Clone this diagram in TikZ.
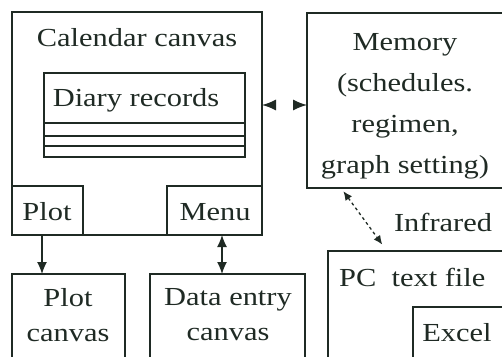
\documentclass[tikz,border=0pt]{standalone}
\usepackage{fontspec}
\setmainfont[FakeStretch=1.17]{Liberation Serif}
\usetikzlibrary{arrows.meta,fit}
\definecolor{ink}{HTML}{1F2A24}
\begin{document}
\begin{tikzpicture}[x=1pt,y=-1pt,
  frame/.style={draw=ink, line width=1.6pt, inner sep=0pt, outer sep=0pt},
  lbl/.style={font=\fontsize{26}{30}\selectfont, text=ink, inner sep=0pt},
  bigtip/.tip={Latex[length=12pt,width=10pt]},
  sidetip/.tip={Latex[length=14pt,width=11pt]},
  smalltip/.tip={Latex[length=9pt,width=8pt]},
  conn/.style={draw=ink, line width=1.3pt}]
\useasboundingbox (0,0) rectangle (502,356);
\clip (0,0) rectangle (502,356);
% calendar canvas
\node[frame, fit={(12,12) (262,235)}] (cal) {};
\node[lbl] (caltxt) at (137,38) {Calendar canvas};
\node[frame, fit={(44,73) (245,157)}] (diary) {};
\node[lbl] (diarytxt) at (136,100) {Diary records};
\draw[draw=ink, line width=2.4pt] (diary.west |- 0,123) -- (diary.east |- 0,123);
\draw[draw=ink, line width=1.2pt] (diary.west |- 0,136) -- (diary.east |- 0,136);
\draw[draw=ink, line width=1.2pt] (diary.west |- 0,146) -- (diary.east |- 0,146);
\node[frame, fit={(12,186) (83,235)}] (plot) {};
\node[lbl] (plottxt) at (47,212) {Plot};
\node[frame, fit={(167,186) (262,235)}] (menu) {};
\node[lbl] (menutxt) at (215,212) {Menu};
% memory
\node[frame, fit={(307,13) (508,188)}] (mem) {};
\node[lbl, align=center, font=\fontsize{26}{41}\selectfont] (memtxt) at (405,106)
  {Memory\\(schedules.\\regimen,\\graph setting)};
% bottom canvases
\node[frame, fit={(12,274) (125,362)}] (plotc) {};
\node[lbl, align=center, font=\fontsize{26}{35}\selectfont] (plotctxt) at (68,315) {Plot\\canvas};
\node[frame, fit={(150,274) (305,362)}] (data) {};
\node[lbl, align=center, font=\fontsize{26}{35}\selectfont] (datatxt) at (228,315) {Data entry\\canvas};
% PC
\node[frame, fit={(328,251) (508,362)}] (pc) {};
\node[lbl, anchor=west] (pctxt) at (339,277) {PC\ \ text file};
\node[frame, fit={(413,307) (508,362)}] (excel) {};
\node[lbl] (exceltxt) at (457,333) {Excel};
\node[lbl] (irtxt) at (443,222) {Infrared};
% connectors
\coordinate (px) at (42,0);
\coordinate (mx) at (222,0);
\coordinate (hy) at (0,105);
\coordinate (ia) at (341,0);
\coordinate (ib) at (387,0);
\draw[conn, -{bigtip}] (plot.south -| px) -- (plotc.north -| px);
\draw[conn, {bigtip}-{bigtip}] (menu.south -| mx) -- (data.north -| mx);
\draw[conn, {sidetip}-{sidetip}, dash pattern=on 0pt off 200pt] (cal.east |- hy) -- (mem.west |- hy);
\draw[conn, {smalltip}-{smalltip}, dash pattern=on 3pt off 3pt, shorten <=4pt, shorten >=8pt] (mem.south -| ia) -- (pc.north -| ib);
\end{tikzpicture}
\end{document}
